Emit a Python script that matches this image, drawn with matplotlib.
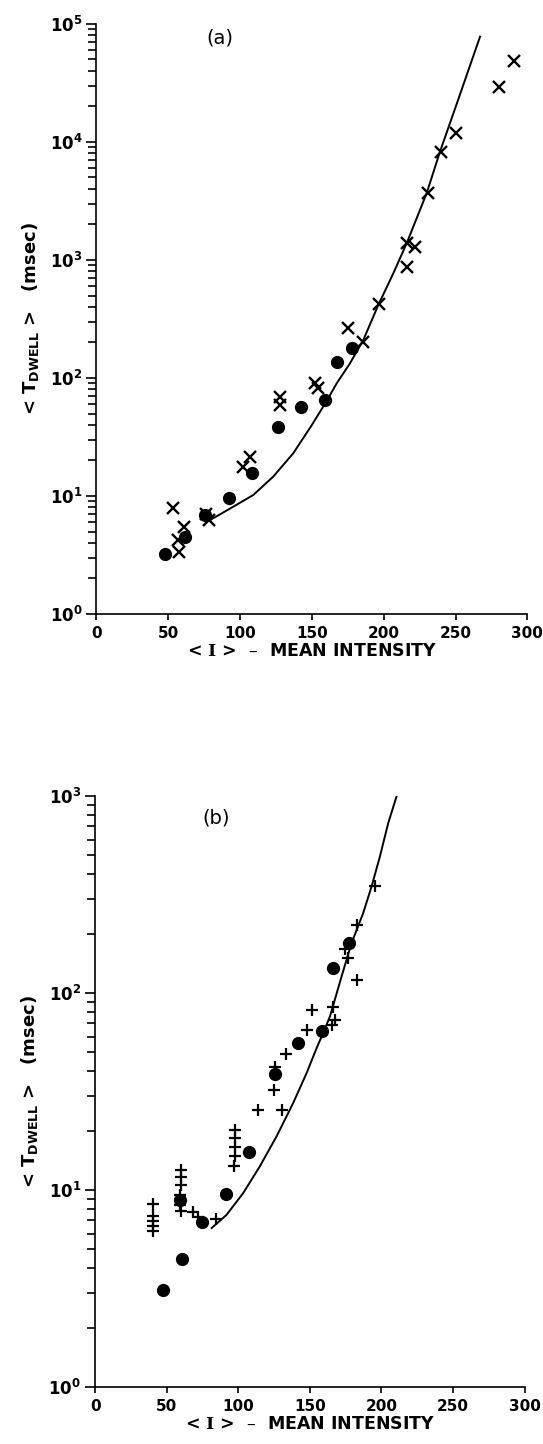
import matplotlib
matplotlib.use("Agg")
import matplotlib.pyplot as plt
from matplotlib.ticker import LogLocator, FuncFormatter, NullFormatter
import numpy as np

# ---- panel (a) data ----
a_circ_x = [47.7, 61.6, 75.6, 92.3, 108.1, 126.6, 142.4, 159.1, 167.3, 177.7]
a_circ_y = [3.22, 4.52, 6.9, 9.56, 15.6, 38.7, 57.1, 65.1, 136, 178]

a_cross_x = [290.4, 280.5, 250.2, 239.8, 231.1, 216.0, 222.0, 216.3, 196.5, 175.0,
             185.8, 152.5, 154.5, 127.8, 127.8, 106.9, 101.8, 53.5, 61.2, 57.0,
             57.7, 76.0, 78.0]
a_cross_y = [49000, 29400, 11850, 8280, 3720, 1400, 1297, 865, 425, 265,
             203, 90, 83, 69.5, 59, 21.5, 17.7, 7.96, 5.5, 4.24,
             3.37, 7.0, 6.3]

a_curve_x = [76, 82, 95.3, 109.2, 123.1, 137, 150, 160, 167.3,
             176.5, 185.8, 192.3, 196.2, 206.7, 216, 229.9, 239.2, 251, 267.1]
a_curve_y = [6.1, 6.55, 8.12, 10.2, 14.6, 23, 40, 63, 90.2,
             133, 210, 321, 415, 771, 1385, 3675, 8280, 21300, 78100]

# ---- panel (b) data ----
b_circ_x = [47.2, 60.5, 59.2, 74.4, 91.3, 107.4, 125.6, 141.8, 158.2, 166.3, 177.5]
b_circ_y = [3.12, 4.48, 8.92, 6.84, 9.53, 15.5, 38.7, 55.6, 64.2, 134, 179]

b_plus_x = [195.4, 183.0, 174.4, 176.7, 183.0, 166.3, 151.2, 167.5, 165.2, 147.7,
            133.2, 125.6, 125.1, 113.5, 130.2, 97.6, 97.6, 98.0, 97.6, 97.3,
            59.7, 59.7, 59.7, 59.5, 59.5, 59.7, 68.5, 71.5, 84.4,
            40.1, 40.1, 40.1, 40.1, 40.1]
b_plus_y = [347, 222, 167, 150, 116, 85.3, 82.1, 73.1, 68.9, 65,
            49.1, 42.3, 32, 25.5, 25.5, 20.2, 18.3, 16.5, 14.9, 13.3,
            12.7, 11.7, 10.6, 9.46, 8.41, 7.78, 7.69, 7.3, 7.12,
            8.51, 7.34, 6.92, 6.58, 6.16]

b_curve_x = [81.4, 91.8, 103.4, 115.1, 126.7, 138.3, 147.7, 154.7, 158.2, 164,
             172.1, 179.1, 187.2, 193.1, 198.9, 204.7, 210.5]
b_curve_y = [6.41, 7.48, 9.64, 13.2, 18.7, 27.6, 39.2, 52.5, 60.1, 75.9,
             121, 179, 254, 347, 492, 727, 992]

x_ticks = [0, 50, 100, 150, 200, 250, 300]


def style_axes(ax, top_exp, tag, tag_pos):
    ax.set_yscale('log')
    ax.set_xlim(0, 300)
    ax.set_ylim(1, 10 ** top_exp)
    for s in ['top', 'right']:
        ax.spines[s].set_visible(False)
    for s in ['left', 'bottom']:
        ax.spines[s].set_linewidth(1.2)
    ax.set_xticks(x_ticks)
    ax.set_xticklabels([str(t) for t in x_ticks], fontsize=11, fontweight='bold')
    ax.yaxis.set_major_locator(LogLocator(base=10, numticks=10))
    ax.yaxis.set_minor_locator(LogLocator(base=10, subs=np.arange(2, 10), numticks=20))
    ax.yaxis.set_major_formatter(
        FuncFormatter(lambda v, p: r'$\mathbf{10^{%d}}$' % int(round(np.log10(v)))))
    ax.yaxis.set_minor_formatter(NullFormatter())
    ax.tick_params(axis='y', which='major', direction='out', length=7, width=1.2,
                   labelsize=12, pad=3)
    ax.tick_params(axis='y', which='minor', direction='out', length=5.5, width=1.2)
    ax.tick_params(axis='x', direction='out', length=4.5, width=1.2, pad=4)
    ax.set_xlabel(r'< $\mathbf{I}$ >  –  MEAN INTENSITY', fontsize=12.5,
                  fontweight='bold', math_fontfamily='dejavuserif', labelpad=1)
    ax.set_ylabel(r'< T$_{\mathbf{DWELL}}$ >   (msec)', fontsize=13,
                  fontweight='bold', labelpad=6)
    ax.text(tag_pos[0], tag_pos[1], tag, transform=ax.transAxes, fontsize=14,
            ha='center', va='center')


fig = plt.figure(figsize=(5.43, 14.44), dpi=100)

ax1 = fig.add_axes([0.1777, 0.5748, 0.7934, 0.4086])
ax1.plot(a_curve_x, a_curve_y, color='black', lw=1.4, zorder=2)
ax1.plot(a_circ_x, a_circ_y, 'o', color='black', ms=8.5, zorder=3)
ax1.plot(a_cross_x, a_cross_y, 'x', color='black', ms=8, mew=1.7, zorder=4)
style_axes(ax1, 5, '(a)', (0.287, 0.976))

ax2 = fig.add_axes([0.1753, 0.0395, 0.7908, 0.4093])
ax2.plot(b_curve_x, b_curve_y, color='black', lw=1.4, zorder=2)
ax2.plot(b_circ_x, b_circ_y, 'o', color='black', ms=8.5, zorder=3)
ax2.plot(b_plus_x, b_plus_y, '+', color='black', ms=9, mew=1.6, zorder=4)
style_axes(ax2, 3, '(b)', (0.282, 0.962))

fig.savefig('out.png', dpi=100)
